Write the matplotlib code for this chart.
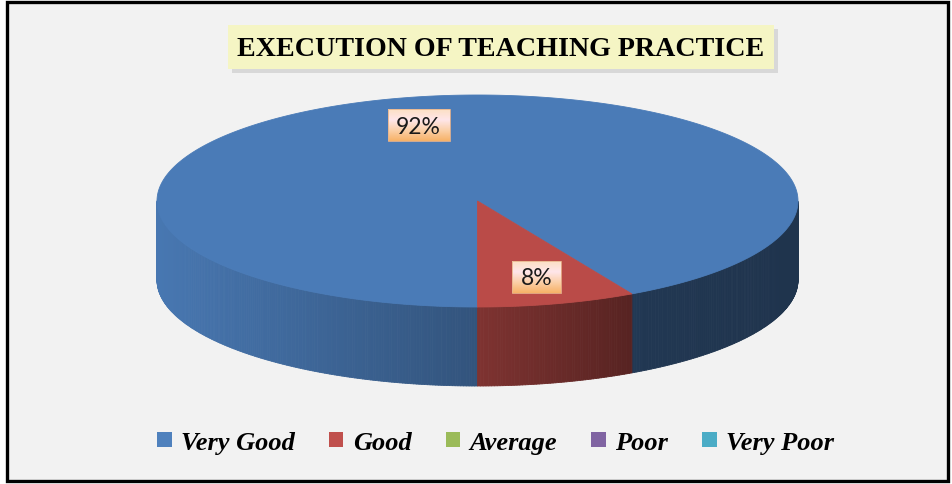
import numpy as np
import matplotlib.pyplot as plt
from matplotlib.patches import Rectangle, Polygon, Patch
from matplotlib.collections import PolyCollection
from matplotlib.colors import to_rgb, LinearSegmentedColormap

# data
categories = ['Very Good', 'Good', 'Average', 'Poor', 'Very Poor']
percents = [92, 8, 0, 0, 0]
labels = ['92%', '8%', '', '', '']
colors = ['#4A7BB7', '#BA4B48', '#9BBB59', '#8064A2', '#4BACC6']
legend_colors = ['#4F81BD', '#C0504D', '#9BBB59', '#8064A2', '#4BACC6']
title = 'EXECUTION OF TEACHING PRACTICE'

# pie geometry (pixel space)
cx, cy = 477.5, 202
rx, ry = 320.5, 106
depth = 79
start_angle = -90  # 6 o'clock, slices run clockwise

# side shading: brightness vs screen x
shade_x = [157, 478, 645, 798]
shade_f = [0.97, 0.68, 0.45, 0.42]

fig = plt.figure(figsize=(9.53, 4.85), dpi=100)
ax = fig.add_axes([0, 0, 1, 1])
ax.set_xlim(0, 953)
ax.set_ylim(485, 0)
ax.axis('off')

# chart area with border
ax.add_patch(Rectangle((7, 3), 941, 479, facecolor='#F2F2F2', edgecolor='black', lw=2.4, zorder=0))


def ell(theta_deg, dy=0):
    t = np.radians(theta_deg)
    return cx + rx * np.cos(t), cy - ry * np.sin(t) + dy


# slice angle ranges
spans = []
a = start_angle
for p in percents:
    b = a - p * 3.6
    spans.append((b, a))
    a = b

# side walls
quads, fcs = [], []
for (lo, hi), col in zip(spans, colors):
    if hi - lo <= 0:
        continue
    n = max(int((hi - lo) / 0.5), 2)
    th = np.linspace(lo, hi, n + 1)
    base = np.array(to_rgb(col))
    for t0, t1 in zip(th[:-1], th[1:]):
        tm = 0.5 * (t0 + t1)
        if np.sin(np.radians(tm)) > 0:
            continue
        x0, y0 = ell(t0)
        x1, y1 = ell(t1)
        quads.append([(x0, y0), (x1, y1), (x1, y1 + depth), (x0, y0 + depth)])
        xm = ell(tm)[0]
        f = np.interp(xm, shade_x, shade_f)
        fcs.append(np.clip(base * f, 0, 1))
ax.add_collection(PolyCollection(quads, facecolors=fcs, edgecolors=fcs, linewidths=0.6, zorder=2))

# top faces
for (lo, hi), col in zip(spans, colors):
    if hi - lo <= 0:
        continue
    th = np.linspace(lo, hi, max(int(hi - lo), 2) * 2)
    pts = [(cx, cy)] + [ell(t) for t in th]
    ax.add_patch(Polygon(pts, closed=True, facecolor=col, edgecolor=col, lw=0.6, zorder=3))

# data labels with gradient boxes
grad = LinearSegmentedColormap.from_list('lbl', ['#FCE0C4', '#FFE6EA', '#FBD0A8', '#F7B268'])
gimg = np.linspace(0, 1, 64).reshape(-1, 1)
for (lo, hi), lab in zip(spans, labels):
    if not lab:
        continue
    mid = 0.5 * (lo + hi)
    lx, ly = ell(mid)
    lx = cx + (lx - cx) * 0.74
    ly = cy + (ly - cy) * 0.74
    w = 23 + 13 * len(lab)
    h = 32
    ax.imshow(gimg, cmap=grad, aspect='auto', extent=(lx - w / 2, lx + w / 2, ly + h / 2, ly - h / 2), zorder=4)
    ax.add_patch(Rectangle((lx - w / 2, ly - h / 2), w, h, fill=False, edgecolor='#E8B48C', lw=0.6, zorder=5))
    ax.text(lx, ly + 1, lab, ha='center', va='center', fontsize=16.5, family='Lato', color='#1a1a1a', zorder=6)

# title box
ax.add_patch(Rectangle((232, 30), 546, 44, facecolor='#D8D8D8', edgecolor='none', zorder=1))
ax.add_patch(Rectangle((228, 26), 546, 44, facecolor='#F5F5C4', edgecolor='none', zorder=2))
ax.text(501, 49, title, ha='center', va='center', fontsize=20.2, fontweight='bold',
        family='Liberation Serif', color='black', zorder=3)

ax.set_xlim(0, 953)
ax.set_ylim(485, 0)

handles = [Patch(facecolor=c, edgecolor='none') for c in legend_colors]
fig.legend(handles, categories, loc='center', bbox_to_anchor=(0.52, 0.086), ncol=5, frameon=False,
           prop={'family': 'Liberation Serif', 'style': 'italic', 'weight': 'bold', 'size': 19},
           handlelength=0.55, handleheight=0.55, handletextpad=0.35, columnspacing=1.3)

fig.savefig('out.png', dpi=100)
